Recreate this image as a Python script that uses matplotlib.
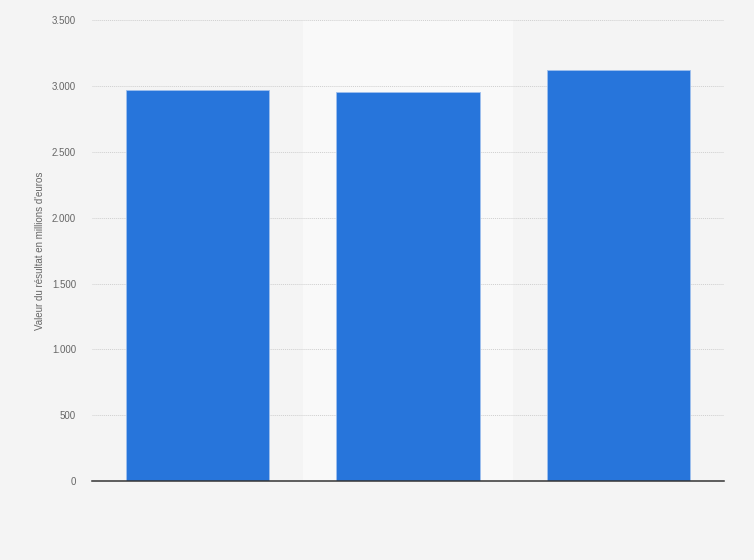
import matplotlib
matplotlib.use("Agg")
import matplotlib.pyplot as plt
from matplotlib.ticker import FuncFormatter

plt.rcParams['font.family'] = ['Liberation Sans', 'DejaVu Sans']

# data (no category labels are shown)
categories = ["A", "B", "C"]
values = [2966, 2956, 3121]
y_ticks = [0, 500, 1000, 1500, 2000, 2500, 3000, 3500]
y_label = "Valeur du résultat en millions d'euros"

bg = "#f4f4f4"
bar_color = "#2775db"

fig = plt.figure(figsize=(7.54, 5.6), dpi=100, facecolor=bg)
ax = fig.add_axes([0.122, 0.141, 0.838, 0.823], facecolor=bg)

x = list(range(len(categories)))

# lighter band behind the middle category
ax.axvspan(0.5, 1.5, ymin=0, ymax=1, color="#f9f9f9", zorder=0, lw=0)

ax.bar(x, values, width=0.68, color=bar_color, edgecolor="#9fc0ee",
       linewidth=0.6, zorder=3)

ax.set_xlim(-0.5, len(categories) - 0.5)
ax.set_ylim(0, 3500)
ax.set_yticks(y_ticks)
ax.yaxis.set_major_formatter(FuncFormatter(lambda v, p: f"{int(v):,}".replace(",", ".")))
ax.grid(axis="y", color="#cfcfcf", linestyle=(0, (1, 1)), linewidth=0.7, zorder=1)

ax.set_xticks(x)
ax.set_xticklabels([])
ax.tick_params(axis="x", length=0)
ax.tick_params(axis="y", length=0, labelsize=7, labelcolor="#666666", pad=11.5)

for s in ["top", "right", "left"]:
    ax.spines[s].set_visible(False)
ax.spines["bottom"].set_color("#333333")
ax.spines["bottom"].set_linewidth(1.1)
ax.spines["bottom"].set_zorder(4)

ax.set_ylabel(y_label, fontsize=7, color="#666666", labelpad=5)

fig.savefig("out.png", dpi=100, facecolor=bg)
